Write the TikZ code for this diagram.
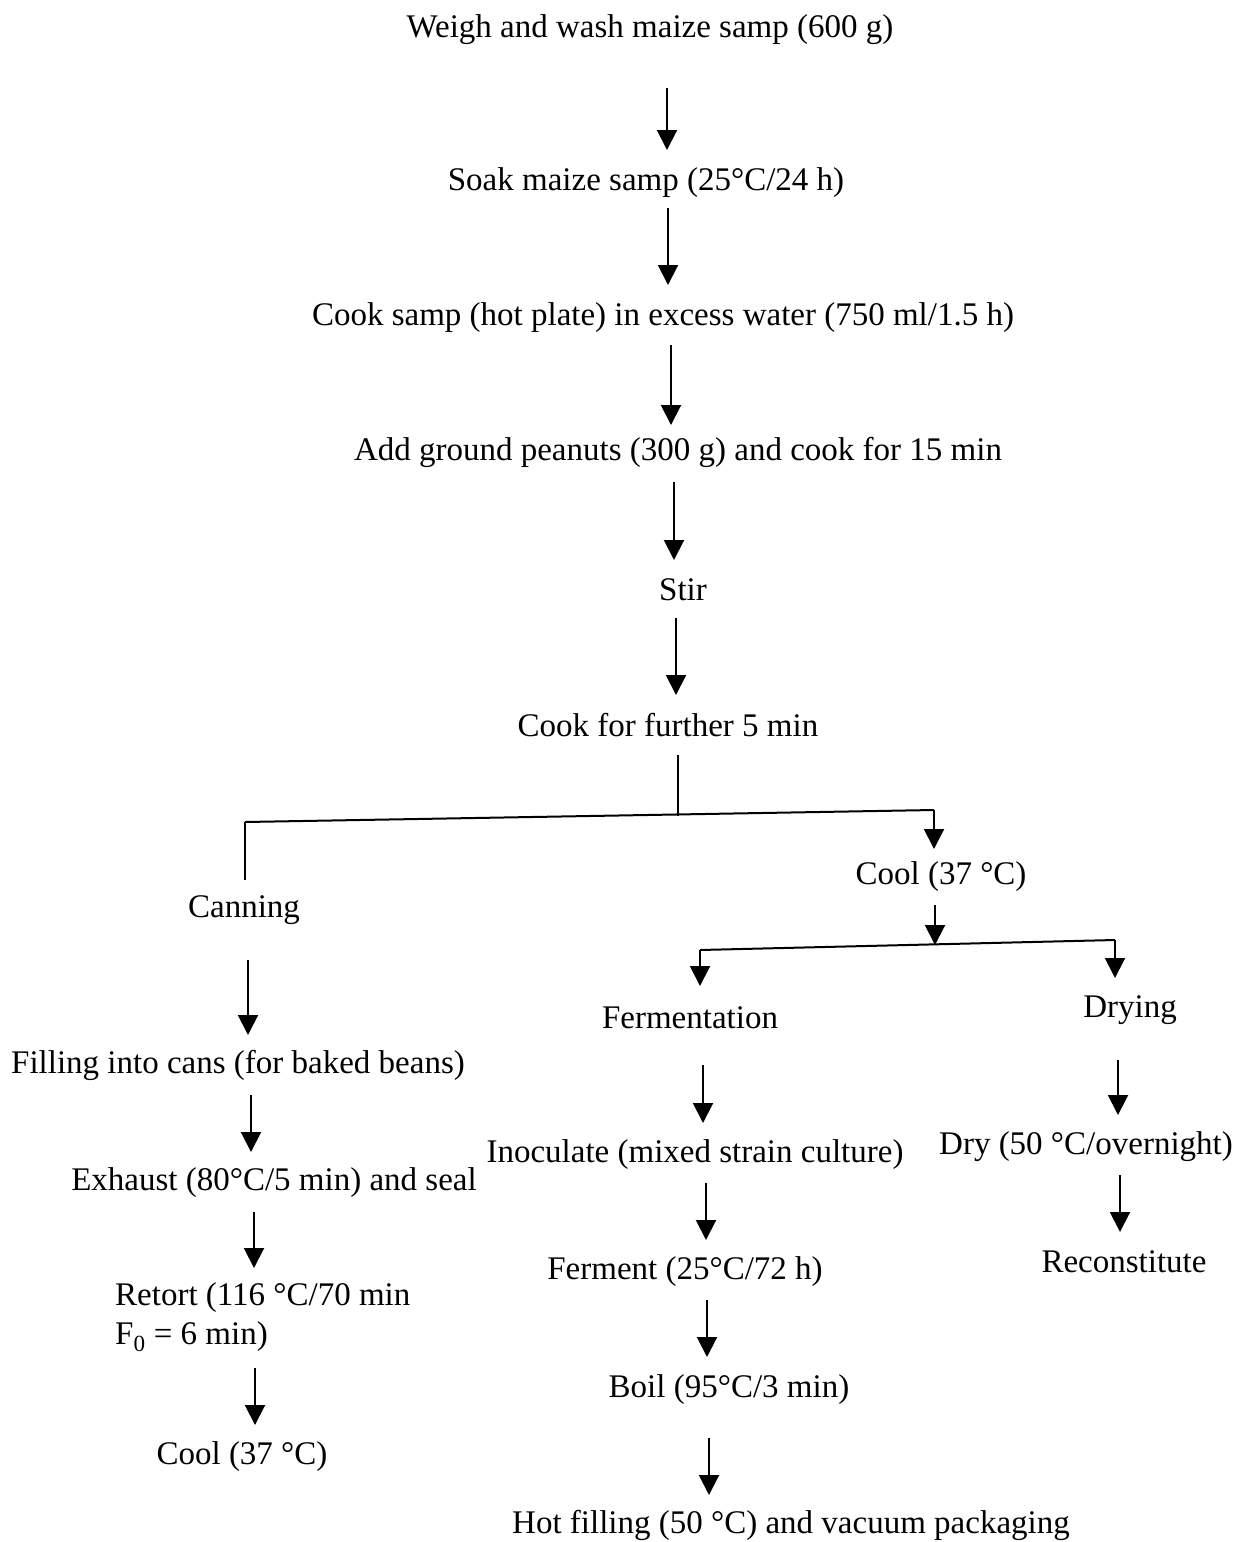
\documentclass[tikz,border=0pt]{standalone}
\usepackage{fontspec}
\setmainfont{Liberation Serif}
\usetikzlibrary{arrows.meta}
\begin{document}
\begin{tikzpicture}[x=1pt,y=-1pt,
  lbl/.style={font=\fontsize{33}{39}\selectfont, inner sep=0pt},
  arr/.style={line width=2pt,-{Triangle[width=20pt,length=20pt]}},
  ln/.style={line width=2pt}]
\useasboundingbox[fill=white] (0,0) rectangle (1240,1542);

% main column
\node[lbl] (n1) at (650,30) {Weigh and wash maize samp (600 g)};
\node[lbl] (n2) at (646,183) {Soak maize samp (25°C/24 h)};
\node[lbl] (n3) at (663,318) {Cook samp (hot plate) in excess water (750 ml/1.5 h)};
\node[lbl] (n4) at (678,452) {Add ground peanuts (300 g) and cook for 15 min};
\node[lbl] (n5) at (683,590) {Stir};
\node[lbl] (n6) at (668,725) {Cook for further 5 min};

% branches
\node[lbl] (c0) at (244,910) {Canning};
\node[lbl] (k0) at (941,877) {Cool (37 °C)};

% canning
\node[lbl] (c1) at (238,1065) {Filling into cans (for baked beans)};
\node[lbl] (c2) at (274,1183) {Exhaust (80°C/5 min) and seal};
\node[lbl, anchor=west, align=left] (c3) at (115,1317) {Retort (116 °C/70 min\\F\textsubscript{0} = 6 min)};
\node[lbl] (c4) at (242,1457) {Cool (37 °C)};

% fermentation
\node[lbl] (f0) at (690,1018) {Fermentation};
\node[lbl] (f1) at (695,1155) {Inoculate (mixed strain culture)};
\node[lbl] (f2) at (685,1272) {Ferment (25°C/72 h)};
\node[lbl] (f3) at (729,1390) {Boil (95°C/3 min)};
\node[lbl] (f4) at (791,1525) {Hot filling (50 °C) and vacuum packaging};

% drying
\node[lbl] (d0) at (1130,1010) {Drying};
\node[lbl] (d1) at (1086,1147) {Dry (50 °C/overnight)};
\node[lbl] (d2) at (1124,1262) {Reconstitute};

% junction coordinates
\coordinate (j1) at (678,816);
\coordinate (j1l) at (245,822);
\coordinate (j1r) at (934,810);
\coordinate (j2) at (935,945);
\coordinate (j2l) at (700,950);
\coordinate (j2r) at (1115,940);

% main column arrows
\draw[arr] (667,88) -- (667,150);
\draw[arr] (668,208) -- (668,285);
\draw[arr] (671,345) -- (671,425);
\draw[arr] (674,482) -- (674,560);
\draw[arr] (676,618) -- (676,695);

% first split
\draw[ln] (678,755) -- (j1);
\draw[ln] (j1l) -- (j1r);
\draw[ln] (j1l) -- (245,880);
\draw[arr] (j1r) -- (934,849);

% second split
\draw[arr] (935,905) -- (j2);
\draw[ln] (j2l) -- (j2r);
\draw[arr] (j2l) -- (700,986);
\draw[arr] (j2r) -- (1115,978);

% canning arrows
\draw[arr] (248,960) -- (248,1035);
\draw[arr] (251,1095) -- (251,1152);
\draw[arr] (254,1212) -- (254,1268);
\draw[arr] (255,1368) -- (255,1425);

% fermentation arrows
\draw[arr] (703,1065) -- (703,1123);
\draw[arr] (706,1183) -- (706,1240);
\draw[arr] (707,1300) -- (707,1357);
\draw[arr] (709,1438) -- (709,1495);

% drying arrows
\draw[arr] (1118,1060) -- (1118,1115);
\draw[arr] (1120,1175) -- (1120,1232);
\end{tikzpicture}
\end{document}
